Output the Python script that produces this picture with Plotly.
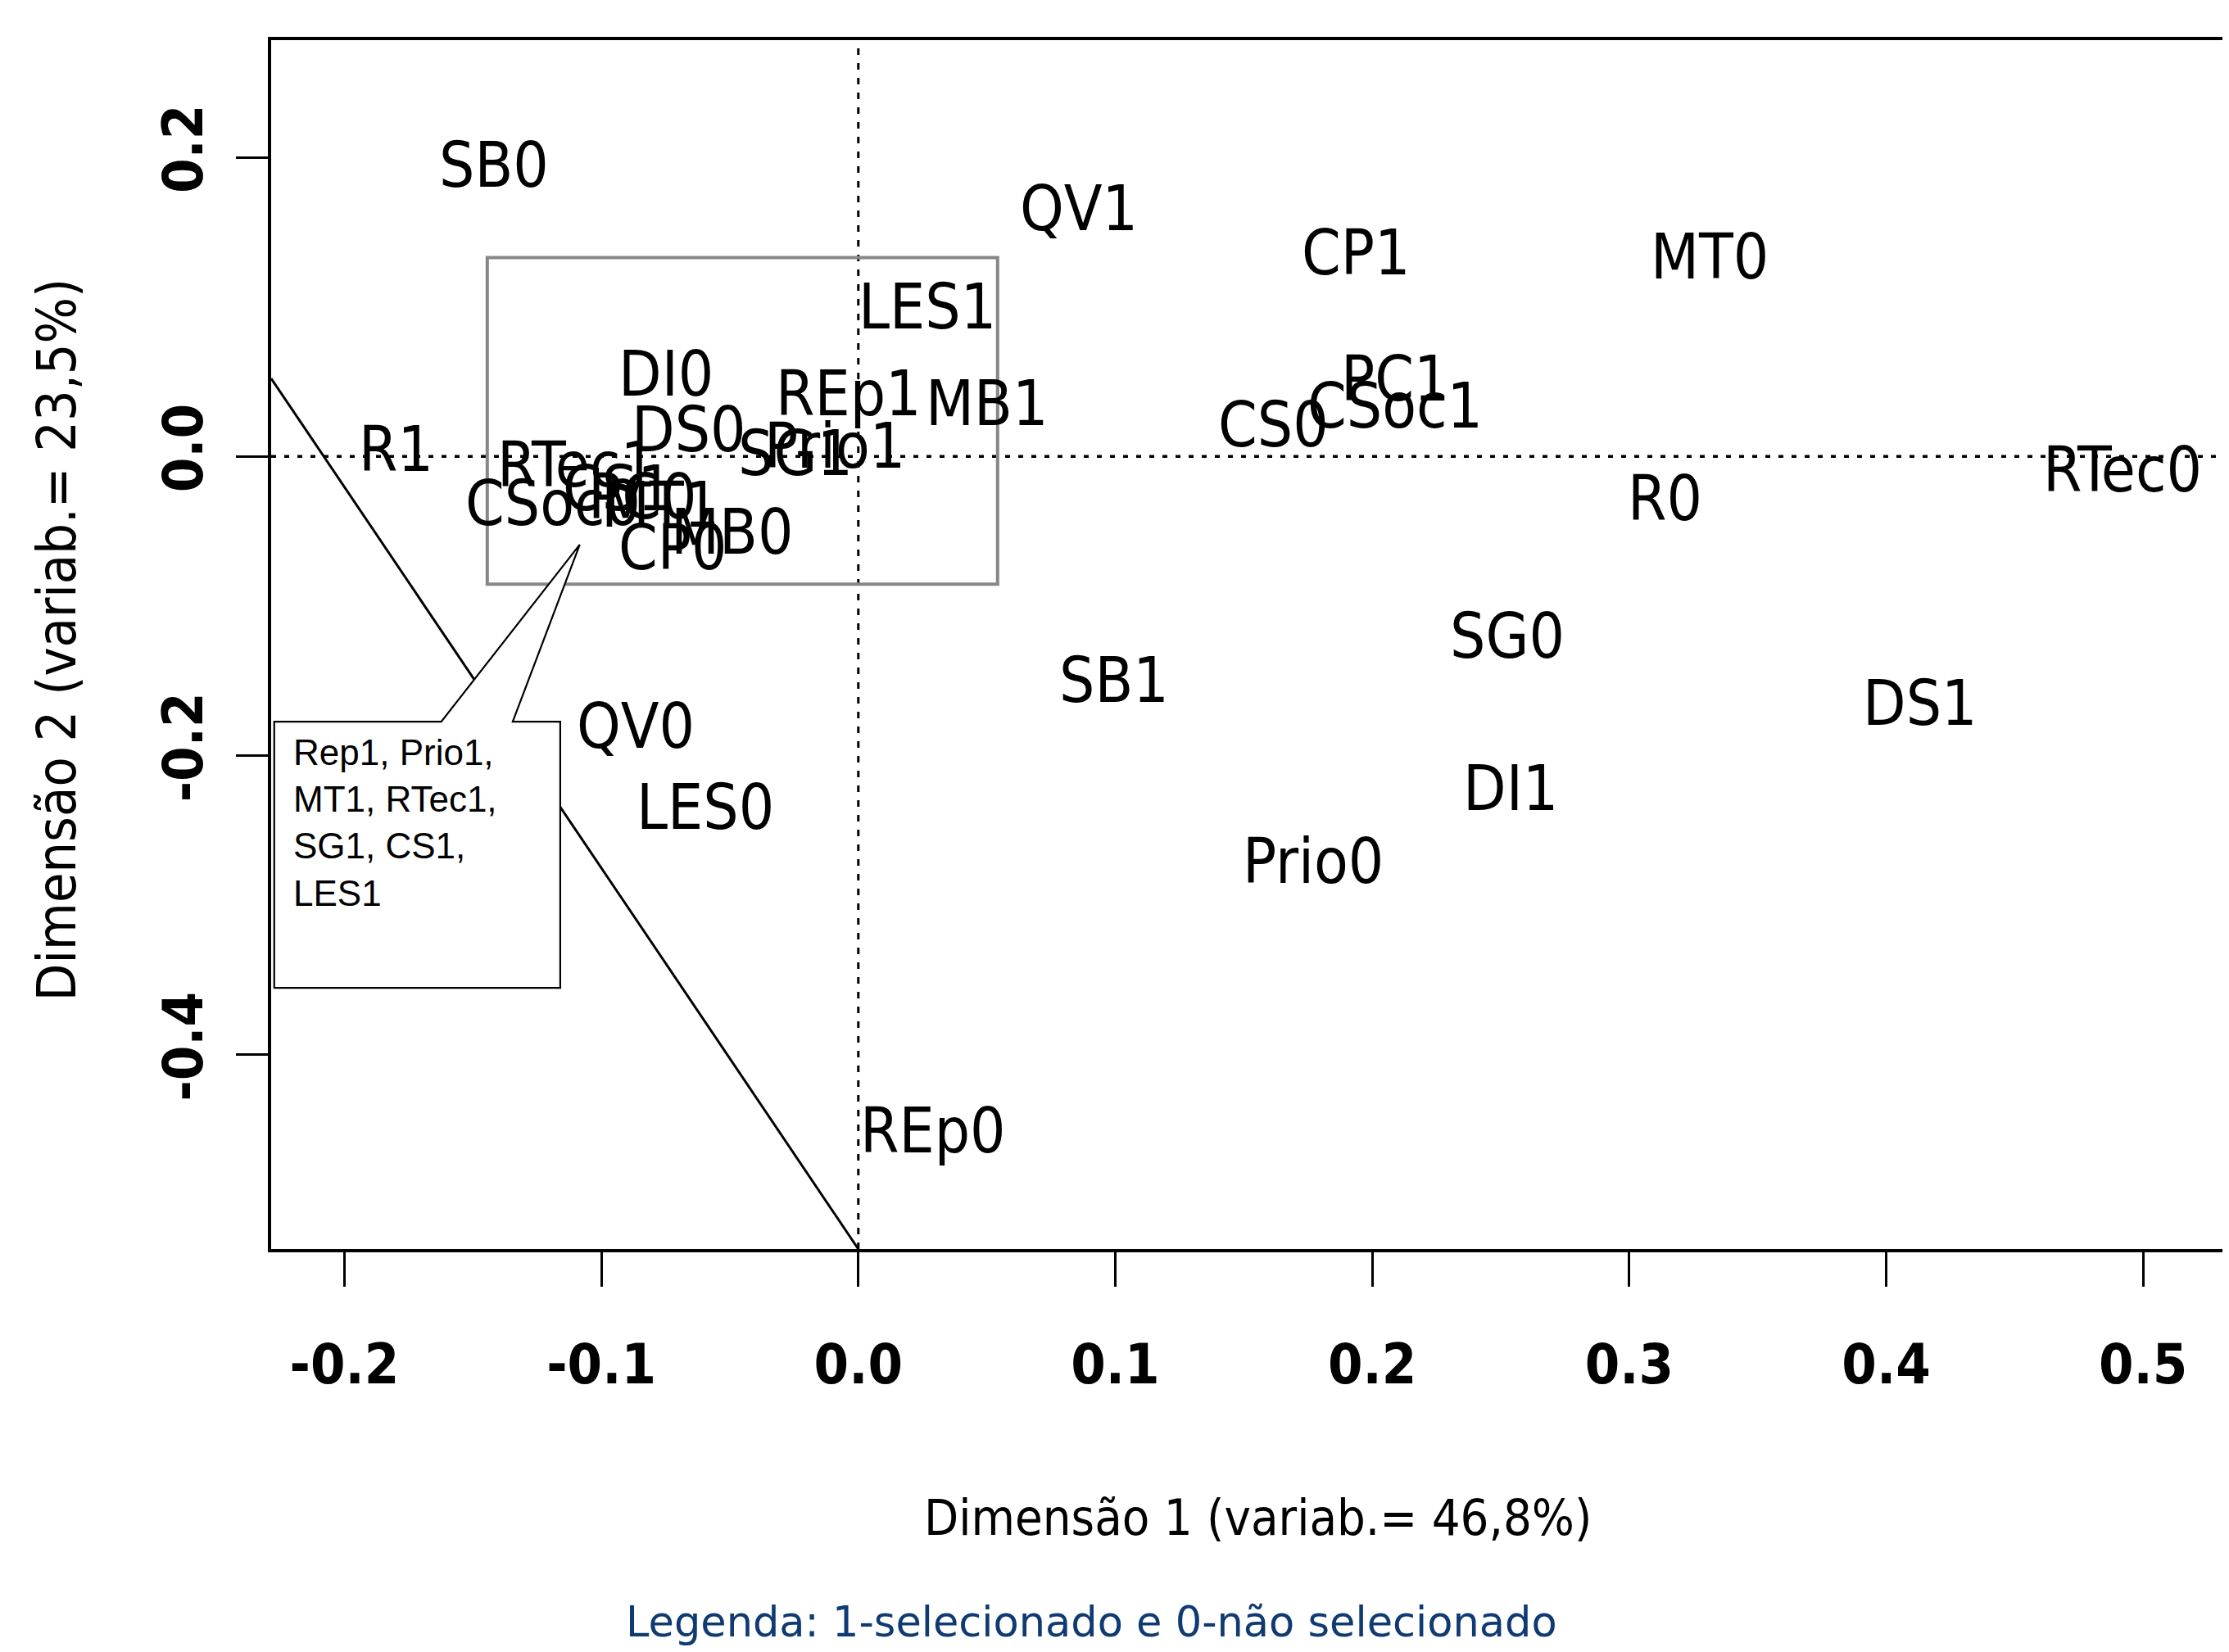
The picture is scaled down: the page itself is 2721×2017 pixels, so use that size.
import plotly.graph_objects as go

# ---- data ----
labels = ["SB0", "QV1", "CP1", "MT0", "LES1", "DI0", "REp1", "MB1", "PC1", "CSoc1",
          "CS0", "DS0", "SG1", "Prio1", "R1", "RTec1", "CSoc0", "CS1", "PC0", "MT1",
          "MB0", "CP0", "QV0", "LES0", "SB1", "SG0", "R0", "RTec0", "DS1", "DI1",
          "Prio0", "REp0"]
dim1 = [-0.1419, 0.0858, 0.1937, 0.3314, 0.0269, -0.0749, -0.0038, 0.0498, 0.2088, 0.2088,
        0.1616, -0.0658, -0.0245, -0.0092, -0.1800, -0.1097, -0.1189, -0.0935, -0.0840, -0.0770,
        -0.0491, -0.0724, -0.0868, -0.0594, 0.0996, 0.2525, 0.3140, 0.4921, 0.4133, 0.2537,
        0.1771, 0.0291]
dim2 = [0.1956, 0.1662, 0.1367, 0.1339, 0.1007, 0.0560, 0.0427, 0.0361, 0.0522, 0.0342,
        0.0219, 0.0185, 0.0027, 0.0077, 0.0055, -0.0049, -0.0307, -0.0210, -0.0262, -0.0317,
        -0.0498, -0.0602, -0.1795, -0.2337, -0.1492, -0.1192, -0.0276, -0.0085, -0.1643, -0.2213,
        -0.2702, -0.4502]

x_tick_vals = [-0.2, -0.1, 0.0, 0.1, 0.2, 0.3, 0.4, 0.5]
x_tick_text = ["-0.2", "-0.1", "0.0", "0.1", "0.2", "0.3", "0.4", "0.5"]
y_tick_vals = [-0.4, -0.2, 0.0, 0.2]
y_tick_text = ["-0.4", "-0.2", "0.0", "0.2"]

x_title = "Dimensão 1 (variab.= 46,8%)"
y_title = "Dimensão 2 (variab.= 23,5%)"
caption = "Legenda: 1-selecionado e 0-não selecionado"
box_text = "Rep1, Prio1,<br>MT1, RTec1,<br>SG1, CS1,<br>LES1"

# ---- styling / layout constants ----
NARROW = "DejaVu Sans Condensed, Liberation Sans Narrow, sans-serif"
XR = [-0.2285, 0.5334]
YR = [-0.5298, 0.2783]

fig = go.Figure()
# invisible trace so the axes are driven by the data
fig.add_trace(go.Scatter(
    x=dim1, y=dim2, mode="markers", marker=dict(size=1, opacity=0),
    hoverinfo="skip", showlegend=False,
))

shapes = [
    # dotted reference lines
    dict(type="line", xref="x domain", yref="y", x0=0, x1=1, y0=0, y1=0,
         line=dict(color="black", width=3.5, dash="6px,10px"), layer="above"),
    dict(type="line", xref="x", yref="y domain", x0=0, x1=0, y0=0, y1=1,
         line=dict(color="black", width=3, dash="8px,10px"), layer="above"),
    # diagonal line
    dict(type="line", xref="x", yref="y", x0=XR[0], y0=0.0522, x1=0.0, y1=YR[0],
         line=dict(color="black", width=3), layer="above"),
    # grey highlight rectangle
    dict(type="rect", xref="x", yref="y", x0=-0.1444, x1=0.0542, y0=-0.0854, y1=0.133,
         line=dict(color="#878787", width=4), fillcolor="rgba(0,0,0,0)", layer="above"),
    # callout box with pointer
    dict(type="path", xref="x", yref="y",
         path=("M -0.2273 -0.1773 L -0.1623 -0.1773 L -0.1084 -0.0589 L -0.1345 -0.1773 "
               "L -0.1160 -0.1773 L -0.1160 -0.3552 L -0.2273 -0.3552 Z"),
         line=dict(color="black", width=2.2), fillcolor="white", layer="above"),
]

# point labels (text centred on each coordinate, like R's text())
annotations = [
    dict(text=lab, xref="x", yref="y", x=xv, y=yv, xanchor="center", yanchor="middle",
         showarrow=False, yshift=-1,
         font=dict(family=NARROW, size=76, color="black"))
    for lab, xv, yv in zip(labels, dim1, dim2)
]

annotations += [
    dict(text=box_text, xref="x", yref="y", x=-0.2206, y=-0.1834,
         xanchor="left", yanchor="top", align="left", showarrow=False,
         font=dict(family="Liberation Sans, Arial, sans-serif", size=44, color="black")),
    dict(text=x_title, xref="paper", yref="paper", x=0.504, y=-0.2222,
         xanchor="center", yanchor="middle", showarrow=False,
         font=dict(family=NARROW, size=61, color="black")),
    dict(text=y_title, xref="paper", yref="paper", x=-0.1096, y=0.504, textangle=-90,
         xanchor="center", yanchor="middle", showarrow=False,
         font=dict(family=NARROW, size=66, color="black")),
    dict(text=caption, xref="paper", yref="paper", x=0.419, y=-0.3089,
         xanchor="center", yanchor="middle", showarrow=False,
         font=dict(family="DejaVu Sans, Verdana, sans-serif", size=51, color="#0f3a72")),
]

# the page body has an 8px margin, so the figure is offset by 8px
fig.update_layout(
    width=2713, height=2009,
    margin=dict(l=323, r=0, t=41, b=492, pad=0),
    paper_bgcolor="white", plot_bgcolor="white",
    shapes=shapes, annotations=annotations, showlegend=False,
    xaxis=dict(range=XR, showgrid=False, zeroline=False,
               showline=True, linecolor="black", linewidth=4, mirror=True,
               ticks="outside", ticklen=42, tickwidth=2.5, tickcolor="black",
               tickvals=x_tick_vals, ticktext=x_tick_text,
               tickfont=dict(family=NARROW, size=68, color="black", weight="bold"),
               ticklabelstandoff=36),
    yaxis=dict(range=YR, showgrid=False, zeroline=False,
               showline=True, linecolor="black", linewidth=4, mirror=False,
               ticks="outside", ticklen=39, tickwidth=2.5, tickcolor="black",
               tickvals=y_tick_vals, ticktext=y_tick_text, tickangle=-90,
               tickfont=dict(family=NARROW, size=68, color="black", weight="bold"),
               ticklabelstandoff=14),
)

fig.write_html("out.html")
